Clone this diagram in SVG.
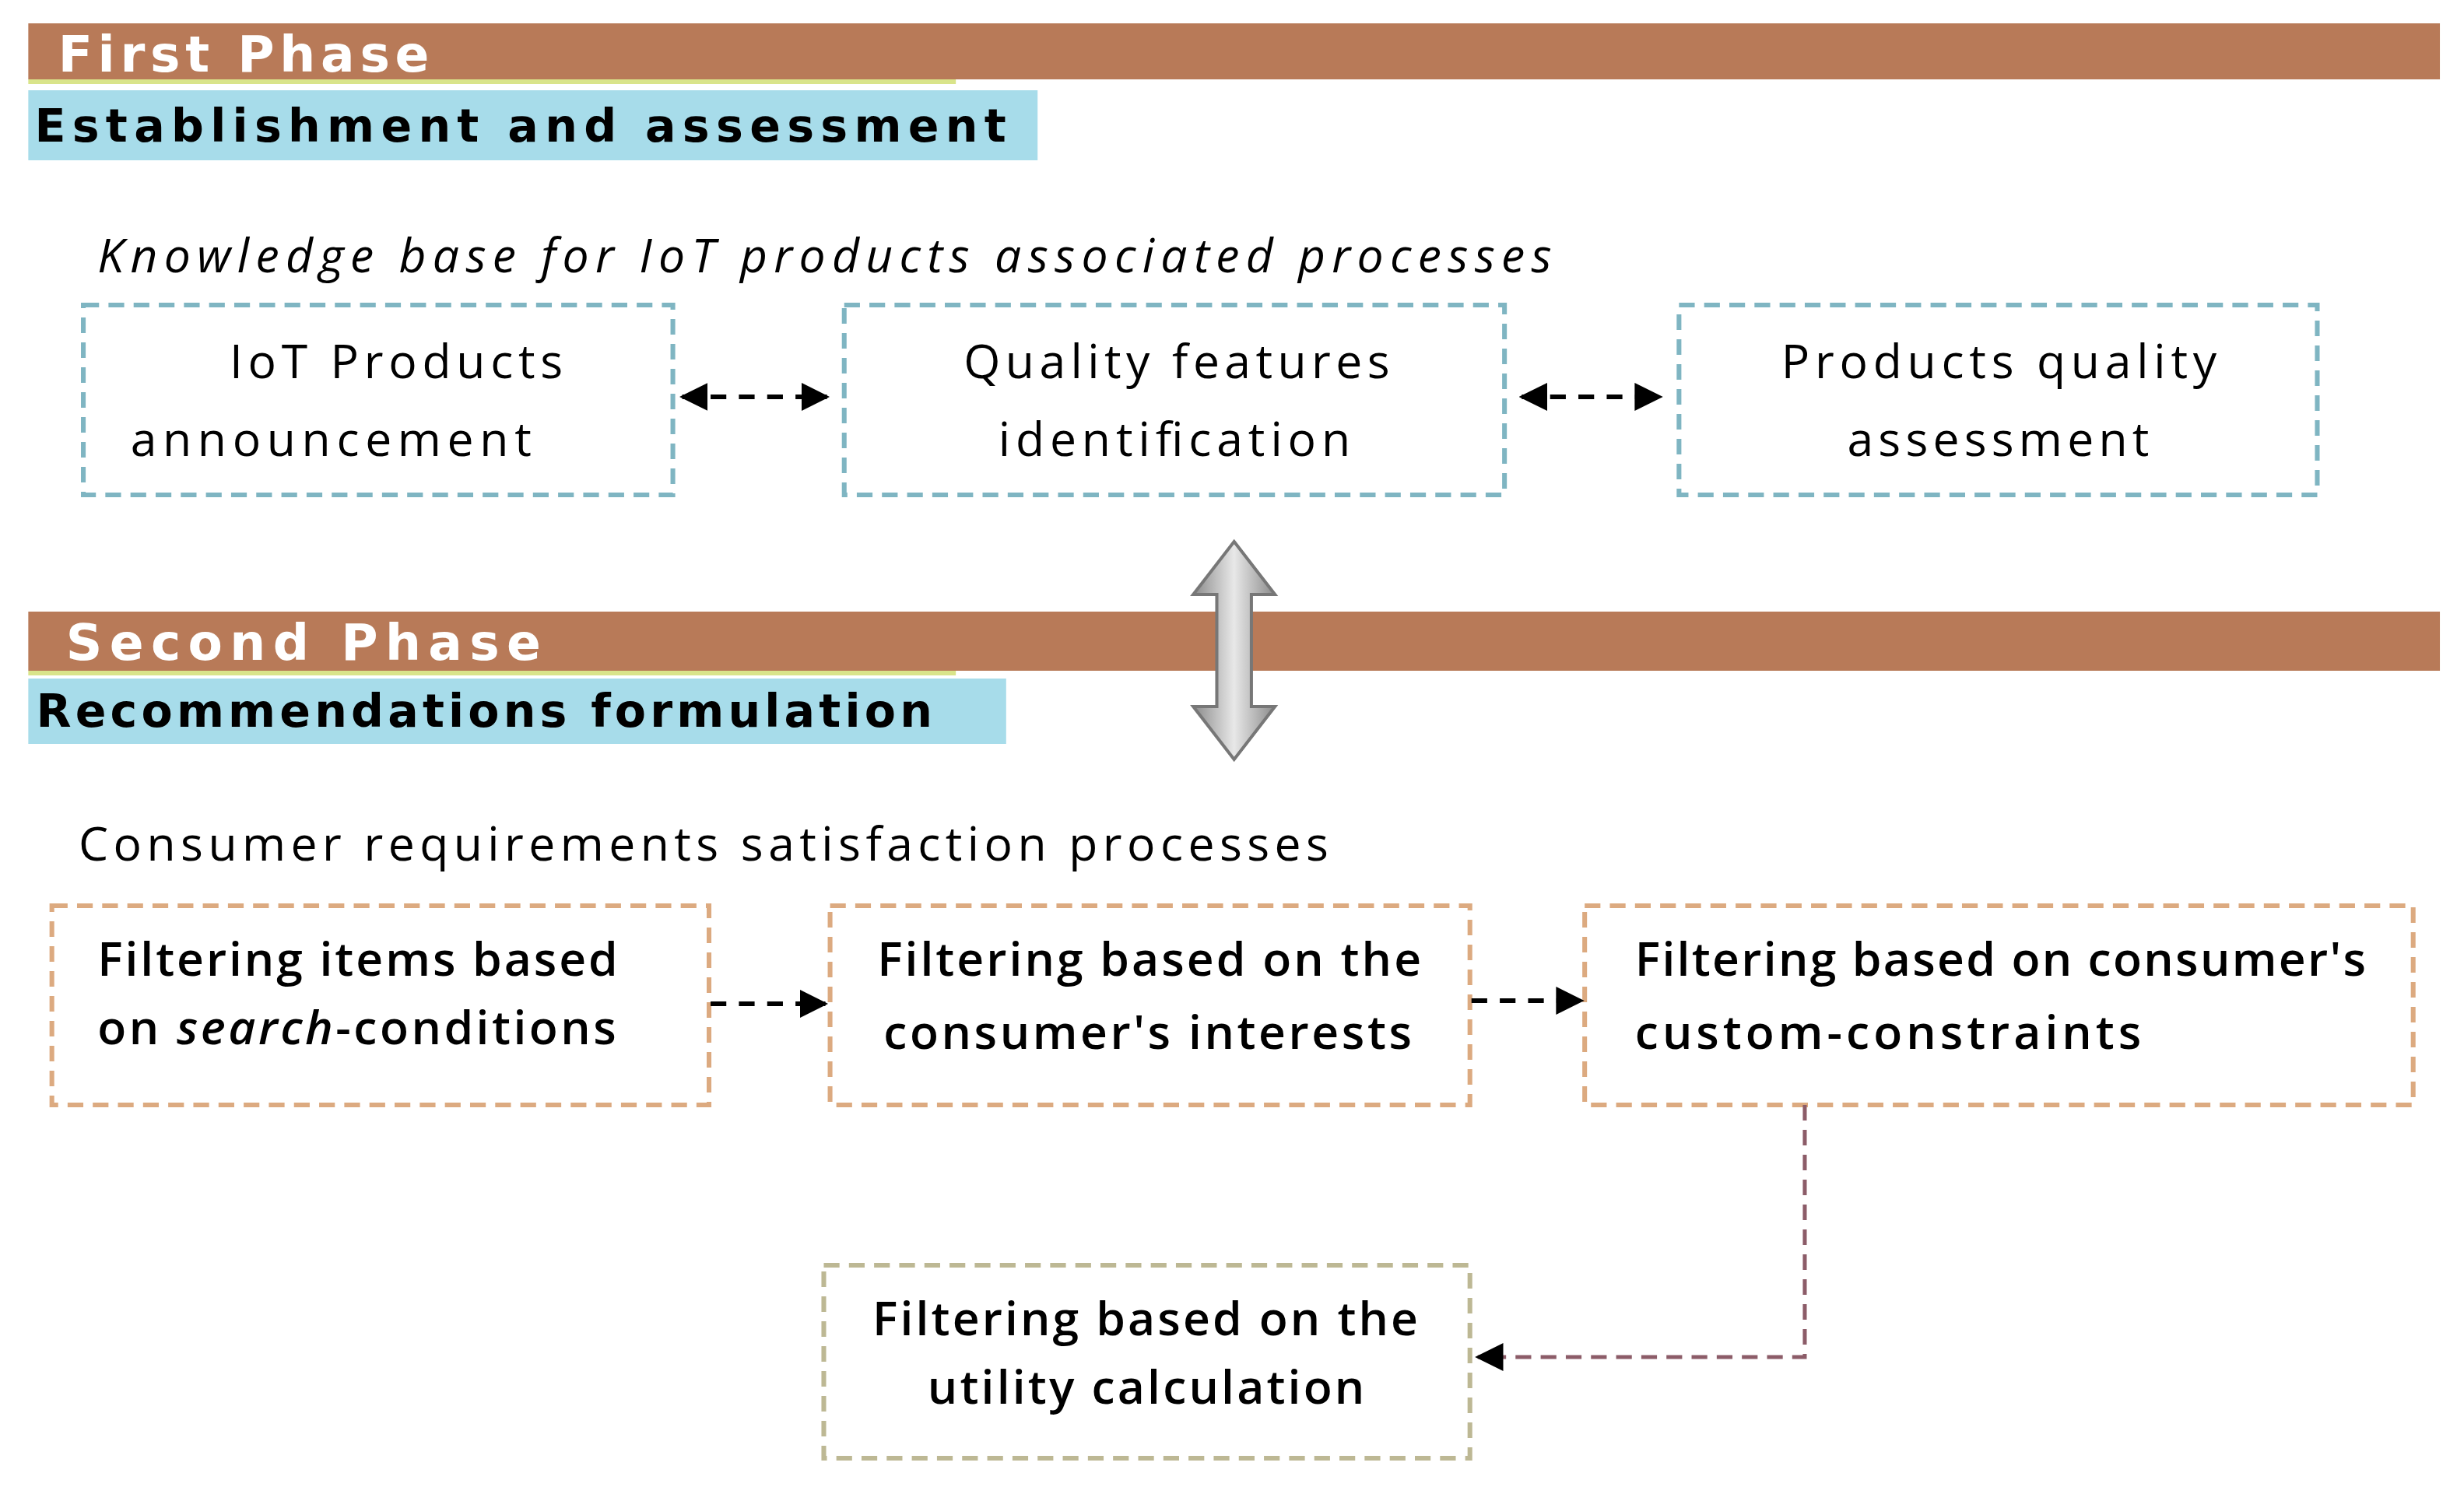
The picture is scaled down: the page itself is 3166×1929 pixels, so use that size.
<svg xmlns="http://www.w3.org/2000/svg" width="3166" height="1929" viewBox="0 0 3166 1929">
<style>
.bar{fill:#b87a58}
.sub{fill:#a7dcea}
.ph{font-family:"DejaVu Sans",sans-serif;font-weight:bold;font-size:32px;fill:#fff}
.hd{font-family:"DejaVu Sans",sans-serif;font-weight:bold;font-size:29px;fill:#000}
.t{font-family:"Open Sans",sans-serif;font-size:30px;fill:#000}
.b{font-family:"Open Sans",sans-serif;font-size:30px;font-weight:600;fill:#000}
.bt{fill:none;stroke:#7fb5c2;stroke-width:3;stroke-dasharray:10 6}
.bo{fill:none;stroke:#dcaa80;stroke-width:3;stroke-dasharray:10 6}
.bg{fill:none;stroke:#bdb894;stroke-width:3;stroke-dasharray:10 6}
.c{fill:none;stroke:#000;stroke-width:3;stroke-dasharray:10 8}
</style>
<defs>
<marker id="a" viewBox="0 0 10 10" refX="9" refY="5" markerWidth="18" markerHeight="18" orient="auto-start-reverse" markerUnits="userSpaceOnUse"><path d="M0,0L10,5L0,10z" fill="#000"/></marker>
<linearGradient id="gg" x1="0" x2="1"><stop offset="0" stop-color="#8a8a8a"/><stop offset="0.5" stop-color="#e8e8e8"/><stop offset="1" stop-color="#8a8a8a"/></linearGradient>
</defs>
<rect width="3166" height="1929" fill="#fff"/>
<g transform="scale(2.02,2.0)">
<g id="phase1">
<rect class="bar" x="18" y="15" width="1534" height="36"/>
<rect x="18" y="51" width="590" height="3" fill="#d9e48a"/>
<text class="ph" x="37" y="46" textLength="236" lengthAdjust="spacing">First Phase</text>
<rect class="sub" x="18" y="58" width="642" height="45"/>
<text class="hd" x="22" y="91" textLength="618" lengthAdjust="spacing">Establishment and assessment</text>
<text class="t" x="62" y="175" font-style="italic" textLength="925" lengthAdjust="spacing">Knowledge base for IoT products associated processes</text>
</g>
<g id="n1"><rect class="bt" x="53" y="196" width="375" height="122"/>
<text class="t" x="146" y="243" textLength="212" lengthAdjust="spacing">IoT Products</text>
<text class="t" x="83" y="293" textLength="255" lengthAdjust="spacing">announcement</text></g>
<g id="n2"><rect class="bt" x="537" y="196" width="420" height="122"/>
<text class="t" x="613" y="243" textLength="271" lengthAdjust="spacing">Quality features</text>
<text class="t" x="635" y="293" textLength="224" lengthAdjust="spacing">identification</text></g>
<g id="n3"><rect class="bt" x="1068" y="196" width="406" height="122"/>
<text class="t" x="1133" y="243" textLength="277" lengthAdjust="spacing">Products quality</text>
<text class="t" x="1175" y="293" textLength="192" lengthAdjust="spacing">assessment</text></g>
<g id="phase2">
<rect class="bar" x="18" y="393" width="1534" height="38"/>
<rect x="18" y="431" width="590" height="3" fill="#d9e48a"/>
<text class="ph" x="42" y="424" textLength="302" lengthAdjust="spacing">Second Phase</text>
<rect class="sub" x="18" y="436" width="622" height="42"/>
<text class="hd" x="23" y="467" textLength="570" lengthAdjust="spacing">Recommendations formulation</text>
<text class="t" x="50" y="553" textLength="795" lengthAdjust="spacing">Consumer requirements satisfaction processes</text>
</g>
<g id="n4"><rect class="bo" x="33" y="582" width="418" height="128"/>
<text class="b" x="62" y="627" textLength="331" lengthAdjust="spacing">Filtering items based</text>
<text class="b" x="62" y="671" textLength="330" lengthAdjust="spacing">on <tspan font-style="italic">search</tspan>-conditions</text></g>
<g id="n5"><rect class="bo" x="528" y="582" width="407" height="128"/>
<text class="b" x="558" y="627" textLength="346" lengthAdjust="spacing">Filtering based on the</text>
<text class="b" x="562" y="674" textLength="336" lengthAdjust="spacing">consumer's interests</text></g>
<g id="n6"><rect class="bo" x="1008" y="582" width="527" height="128"/>
<text class="b" x="1040" y="627" textLength="465" lengthAdjust="spacing">Filtering based on consumer's</text>
<text class="b" x="1040" y="674" textLength="322" lengthAdjust="spacing">custom-constraints</text></g>
<g id="n7"><rect class="bg" x="524" y="813" width="411" height="124"/>
<text class="b" x="555" y="858" textLength="347" lengthAdjust="spacing">Filtering based on the</text>
<text class="b" x="590" y="902" textLength="278" lengthAdjust="spacing">utility calculation</text></g>
<g id="connectors">
<line class="c" x1="434" y1="255" x2="526" y2="255" marker-start="url(#a)" marker-end="url(#a)"/>
<line class="c" x1="968" y1="255" x2="1056" y2="255" marker-start="url(#a)" marker-end="url(#a)"/>
<line class="c" x1="452" y1="645" x2="525" y2="645" marker-end="url(#a)"/>
<line class="c" x1="936" y1="643" x2="1006" y2="643" marker-end="url(#a)"/>
<path d="M1148,710V872H940" fill="none" stroke="#8c5c68" stroke-width="2.5" stroke-dasharray="10 6" marker-end="url(#a)"/>
<path d="M785,348L811,382H796V454H811L785,488L759,454H774V382H759Z" fill="url(#gg)" stroke="#777" stroke-width="2"/>
</g>
</g>
</svg>
